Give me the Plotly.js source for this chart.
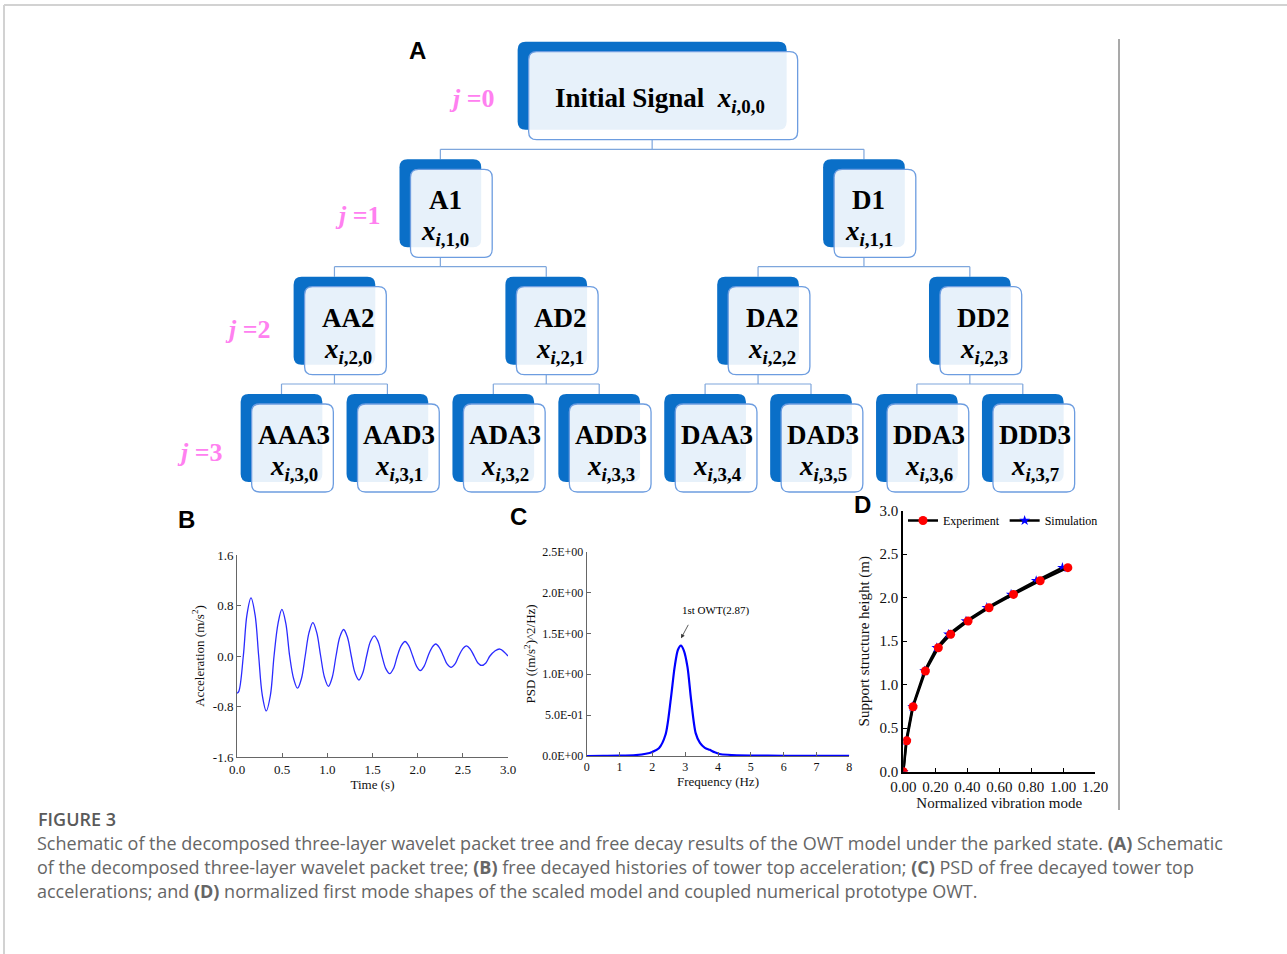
<!DOCTYPE html>
<html><head><meta charset="utf-8">
<script src="https://cdn.plot.ly/plotly-3.0.1.min.js"></script>
<style>html,body{margin:0;padding:0;background:#fff;} #chart{width:1287px;height:954px;}</style>
</head><body><div id="chart"></div>
<script>
// ---------------- DATA ----------------
// Panel B: free decay of tower top acceleration
const timeS = [0.00,0.02,0.07,0.11,0.155,0.20,0.24,0.28,0.324,0.37,0.41,0.455,0.497,0.54,0.583,0.627,0.67,0.713,0.755,0.797,0.84,0.883,0.926,0.969,1.012,1.054,1.096,1.138,1.18,1.222,1.265,1.307,1.35,1.392,1.435,1.477,1.52,1.562,1.605,1.647,1.69,1.732,1.775,1.817,1.86,1.902,1.945,1.987,2.03,2.072,2.115,2.157,2.20,2.242,2.285,2.327,2.37,2.412,2.455,2.497,2.54,2.582,2.625,2.667,2.71,2.755,2.80,2.855,2.91,3.00];
const accel = [-0.59,-0.56,0.0,0.65,0.92,0.65,0.0,-0.62,-0.87,-0.62,0.0,0.52,0.74,0.52,0.0,-0.36,-0.51,-0.36,0.0,0.37,0.53,0.37,0.0,-0.34,-0.48,-0.34,0.0,0.30,0.42,0.30,0.0,-0.27,-0.38,-0.27,0.0,0.23,0.32,0.23,0.0,-0.20,-0.28,-0.20,0.0,0.16,0.23,0.16,0.0,-0.16,-0.23,-0.16,0.0,0.13,0.19,0.13,0.0,-0.13,-0.18,-0.13,0.0,0.11,0.16,0.11,0.0,-0.11,-0.15,-0.11,0.0,0.08,0.11,0.0];
const accelTickVals = [-1.6,-0.8,0,0.8,1.6];
const accelTickText = ['-1.6','-0.8','0.0','0.8','1.6'];
const timeTickVals = [0,0.5,1,1.5,2,2.5,3];
const timeTickText = ['0.0','0.5','1.0','1.5','2.0','2.5','3.0'];

// Panel C: PSD
const freqHz = [0,0.5,1.0,1.5,1.8,2.0,2.2,2.4,2.56,2.68,2.78,2.87,2.96,3.07,3.18,3.32,3.45,3.6,3.75,3.9,4.05,4.3,5,6,7,8];
const psd    = [0,0.002,0.004,0.012,0.028,0.05,0.095,0.26,0.69,1.09,1.30,1.35,1.29,1.09,0.69,0.28,0.16,0.10,0.075,0.045,0.025,0.015,0.006,0.003,0.002,0.001];
const psdTickVals = [0,0.5,1.0,1.5,2.0,2.5];
const psdTickText = ['0.0E+00','5.0E-01','1.0E+00','1.5E+00','2.0E+00','2.5E+00'];
const freqTickVals = [0,1,2,3,4,5,6,7,8];
const peakFreq = 2.875, peakPsd = 1.44;
const peakLabel = '1st OWT(2.87)';

// Panel D: mode shapes
const expMode   = [0,0.021,0.061,0.138,0.219,0.296,0.405,0.536,0.689,0.856,1.029];
const expHeight = [0,0.356,0.747,1.157,1.425,1.579,1.732,1.885,2.038,2.195,2.345];
const simMode   = [0,0.018,0.058,0.133,0.209,0.282,0.392,0.522,0.674,0.831,0.995];
const simHeight = [0,0.356,0.747,1.157,1.425,1.579,1.732,1.885,2.038,2.195,2.345];
const modeTickVals = [0,0.2,0.4,0.6,0.8,1.0,1.2];
const modeTickText = ['0.00','0.20','0.40','0.60','0.80','1.00','1.20'];
const heightTickVals = [0,0.5,1,1.5,2,2.5,3];
const heightTickText = ['0.0','0.5','1.0','1.5','2.0','2.5','3.0'];

// Panel A: wavelet packet tree
const treeNames = [['Initial Signal'],['A1','D1'],['AA2','AD2','DA2','DD2'],['AAA3','AAD3','ADA3','ADD3','DAA3','DAD3','DDA3','DDD3']];
const levelLabels = ['0','1','2','3'];

// ---------------- LAYOUT HELPERS ----------------
const W = 1287, H = 954;
const px = x => x / W;
const py = y => 1 - y / H;
const serif = 'Liberation Serif, Times New Roman, serif';
const sans = 'Liberation Sans, Arial, sans-serif';

function rrect(x0, y0, x1, y1, r) {
  const P = (x, y) => px(x).toFixed(5) + ',' + py(y).toFixed(5);
  return `M${P(x0 + r, y0)} L${P(x1 - r, y0)} Q${P(x1, y0)} ${P(x1, y0 + r)} L${P(x1, y1 - r)} Q${P(x1, y1)} ${P(x1 - r, y1)} L${P(x0 + r, y1)} Q${P(x0, y1)} ${P(x0, y1 - r)} L${P(x0, y0 + r)} Q${P(x0, y0)} ${P(x0 + r, y0)} Z`;
}
function pline(x0, y0, x1, y1, color, width) {
  return {type: 'line', xref: 'paper', yref: 'paper', x0: px(x0), y0: py(y0), x1: px(x1), y1: py(y1), line: {color: color, width: width}};
}

const shapes = [];
const annotations = [];

// page frame
shapes.push(pline(4, 5, 1287, 5, '#d2d2d2', 2));
shapes.push(pline(4, 5, 4, 954, '#d2d2d2', 2));
// separator line right of panel D
shapes.push(pline(1119, 39, 1119, 810, '#8c8c8c', 1.5));

// tree geometry
const leafX0 = 292.5, leafPitch = 105.9;
const rowTop = [51.7, 169.3, 286.7, 404];
const boxH = 88;
const boxW = [269, 81.7, 81.7, 81.7];
const backDx = -11, backDy = -10;
const nameDx = [0, -6, 3, 1];
const connColor = '#7ea6dc';
function nodeCenter(j, n) {
  const span = Math.pow(2, 3 - j);
  return leafX0 + leafPitch * ((n * span + (n + 1) * span - 1) / 2);
}
// connectors
for (let j = 0; j < 3; j++) {
  treeNames[j].forEach((nm, n) => {
    const bx = nodeCenter(j, n) + backDx;
    const yLine = rowTop[j + 1] + backDy - 10;
    const c1 = nodeCenter(j + 1, 2 * n) + backDx;
    const c2 = nodeCenter(j + 1, 2 * n + 1) + backDx;
    shapes.push(pline(bx, rowTop[j] + boxH, bx, yLine, connColor, 1.2));
    shapes.push(pline(c1, yLine, c2, yLine, connColor, 1.2));
    shapes.push(pline(c1, yLine, c1, rowTop[j + 1] + backDy, connColor, 1.2));
    shapes.push(pline(c2, yLine, c2, rowTop[j + 1] + backDy, connColor, 1.2));
  });
}
// boxes + labels
treeNames.forEach((row, j) => {
  row.forEach((nm, n) => {
    const cx = nodeCenter(j, n);
    const x0 = cx - boxW[j] / 2, x1 = cx + boxW[j] / 2;
    const y0 = rowTop[j], y1 = rowTop[j] + boxH;
    shapes.push({type: 'path', xref: 'paper', yref: 'paper', path: rrect(x0 + backDx, y0 + backDy, x1 + backDx, y1 + backDy, 8),
      fillcolor: '#0a6fc8', line: {width: 0}});
    shapes.push({type: 'path', xref: 'paper', yref: 'paper', path: rrect(x0, y0, x1, y1, 8),
      fillcolor: 'rgba(255,255,255,0.9)', line: {color: '#6d9de0', width: 1.3}});
    const idx = j === 0 ? '0,0' : (j + ',' + n);
    const xsym = '<b><i>x</i></b><sub><b><i>i</i>,' + idx + '</b></sub>';
    if (j === 0) {
      annotations.push({xref: 'paper', yref: 'paper', x: px(cx - 3), y: py(y0 + 48), xanchor: 'center', yanchor: 'middle', showarrow: false,
        text: '<b>' + nm + '</b>  ' + xsym, font: {family: serif, size: 27, color: '#000'}});
    } else {
      annotations.push({xref: 'paper', yref: 'paper', x: px(cx + nameDx[j]), y: py(y0 + 31), xanchor: 'center', yanchor: 'middle', showarrow: false,
        text: '<b>' + nm + '</b>', font: {family: serif, size: 27, color: '#000'}});
      annotations.push({xref: 'paper', yref: 'paper', x: px(cx + nameDx[j]), y: py(y0 + 64), xanchor: 'center', yanchor: 'middle', showarrow: false,
        text: xsym, font: {family: serif, size: 27, color: '#000'}});
    }
  });
});
// level labels j = ...
const jPos = [[471.7, 98], [358, 215], [248, 330], [200, 452]];
levelLabels.forEach((l, j) => {
  annotations.push({xref: 'paper', yref: 'paper', x: px(jPos[j][0]), y: py(jPos[j][1]), xanchor: 'center', yanchor: 'middle', showarrow: false,
    text: '<b><i>j</i> =' + l + '</b>', font: {family: serif, size: 26, color: '#ff80f0'}});
});
// panel letters
[['A', 417.5, 51], ['B', 186, 519], ['C', 518, 516], ['D', 862, 505]].forEach(p => {
  annotations.push({xref: 'paper', yref: 'paper', x: px(p[1]), y: py(p[2]), xanchor: 'center', yanchor: 'middle', showarrow: false,
    text: '<b>' + p[0] + '</b>', font: {family: sans, size: 24, color: '#000'}});
});
// panel C arrow + label
annotations.push({xref: 'x2', yref: 'y2', x: peakFreq, y: peakPsd, ax: 8, ay: -15, text: '', showarrow: true,
  arrowhead: 2, arrowsize: 1, arrowwidth: 0.8, arrowcolor: '#333'});
annotations.push({xref: 'x2', yref: 'y2', x: 3.94, y: 1.775, xanchor: 'center', yanchor: 'middle', showarrow: false,
  text: peakLabel, font: {family: serif, size: 11, color: '#000'}});

// caption
const capFont = {family: 'Open Sans, sans-serif', size: 18, color: '#666666'};
annotations.push({xref: 'paper', yref: 'paper', x: px(36), y: py(819), xanchor: 'left', yanchor: 'middle', showarrow: false,
  text: 'FIGURE 3', font: {family: 'Open Sans, sans-serif', size: 18, color: '#5a5a5a', weight: 600}});
const capLines = [
  'Schematic of the decomposed three-layer wavelet packet tree and free decay results of the OWT model under the parked state. <b>(A)</b> Schematic',
  'of the decomposed three-layer wavelet packet tree; <b>(B)</b> free decayed histories of tower top acceleration; <b>(C)</b> PSD of free decayed tower top',
  'accelerations; and <b>(D)</b> normalized first mode shapes of the scaled model and coupled numerical prototype OWT.'
];
capLines.forEach((t, i) => {
  annotations.push({xref: 'paper', yref: 'paper', x: px(35), y: py(843 + i * 24), xanchor: 'left', yanchor: 'middle', showarrow: false,
    text: t, font: capFont});
});

// ---------------- TRACES ----------------
const traces = [
  {x: timeS, y: accel, xaxis: 'x', yaxis: 'y', type: 'scatter', mode: 'lines', line: {color: '#2b2bff', width: 1.3, shape: 'spline', smoothing: 1}, showlegend: false, hoverinfo: 'skip'},
  {x: freqHz, y: psd, xaxis: 'x2', yaxis: 'y2', type: 'scatter', mode: 'lines', line: {color: '#0000ff', width: 2.2, shape: 'spline', smoothing: 0.8}, showlegend: false, hoverinfo: 'skip'},
  {x: simMode, y: simHeight, xaxis: 'x3', yaxis: 'y3', type: 'scatter', mode: 'lines+markers', name: 'Simulation',
    line: {color: '#000', width: 2.5}, marker: {symbol: 'star', color: '#0000ff', size: 8}},
  {x: expMode, y: expHeight, xaxis: 'x3', yaxis: 'y3', type: 'scatter', mode: 'lines+markers', name: 'Experiment',
    line: {color: '#000', width: 2.5}, marker: {symbol: 'circle', color: '#ff0000', size: 9}}
];

function axisBase(extra) {
  return Object.assign({showgrid: false, zeroline: false, showline: true, linecolor: '#666', linewidth: 1,
    ticks: 'inside', ticklen: 4, tickcolor: '#666', tickfont: {family: serif, size: 13, color: '#111'},
    autorange: false, fixedrange: true}, extra);
}

const layout = {
  width: W, height: H,
  margin: {l: 0, r: 0, t: 0, b: 0},
  paper_bgcolor: '#fff', plot_bgcolor: 'rgba(0,0,0,0)',
  showlegend: true,
  legend: {orientation: 'h', x: px(903), y: py(506), xanchor: 'left', yanchor: 'top', traceorder: 'reversed',
    font: {family: serif, size: 12, color: '#000'}, bgcolor: 'rgba(0,0,0,0)', itemwidth: 30, tracegroupgap: 0},
  xaxis: axisBase({domain: [px(237), px(508)], range: [0, 3], anchor: 'y', tickvals: timeTickVals, ticktext: timeTickText,
    title: {text: 'Time (s)', font: {family: serif, size: 13, color: '#111'}, standoff: 3}}),
  yaxis: axisBase({domain: [py(757), py(555)], range: [-1.6, 1.6], anchor: 'x', tickvals: accelTickVals, ticktext: accelTickText,
    title: {text: 'Acceleration (m/s<sup>2</sup>)', font: {family: serif, size: 13, color: '#111'}, standoff: 5}}),
  xaxis2: axisBase({domain: [px(586.7), px(849.3)], range: [0, 8], anchor: 'y2', tickvals: freqTickVals,
    tickfont: {family: serif, size: 12, color: '#111'},
    title: {text: 'Frequency (Hz)', font: {family: serif, size: 13, color: '#111'}, standoff: 2}}),
  yaxis2: axisBase({domain: [py(756), py(551.7)], range: [0, 2.5], anchor: 'x2', tickvals: psdTickVals, ticktext: psdTickText,
    tickfont: {family: serif, size: 12, color: '#111'},
    title: {text: 'PSD ((m/s<sup>2</sup>)^2/Hz)', font: {family: serif, size: 13, color: '#111'}, standoff: 3}}),
  xaxis3: axisBase({domain: [px(903.3), px(1095.2)], range: [0, 1.2], anchor: 'y3', tickvals: modeTickVals, ticktext: modeTickText,
    linecolor: '#000', linewidth: 2, tickcolor: '#000', tickfont: {family: serif, size: 15, color: '#111'},
    title: {text: 'Normalized vibration mode', font: {family: serif, size: 15, color: '#111'}, standoff: 0}}),
  yaxis3: axisBase({domain: [py(771.7), py(510.7)], range: [0, 3], anchor: 'x3', tickvals: heightTickVals, ticktext: heightTickText,
    linecolor: '#000', linewidth: 2, tickcolor: '#000', tickfont: {family: serif, size: 15, color: '#111'},
    title: {text: 'Support structure height (m)', font: {family: serif, size: 15, color: '#111'}, standoff: 6}}),
  shapes: shapes,
  annotations: annotations
};

Plotly.newPlot('chart', traces, layout, {displayModeBar: false, staticPlot: true});
</script>
</body></html>
